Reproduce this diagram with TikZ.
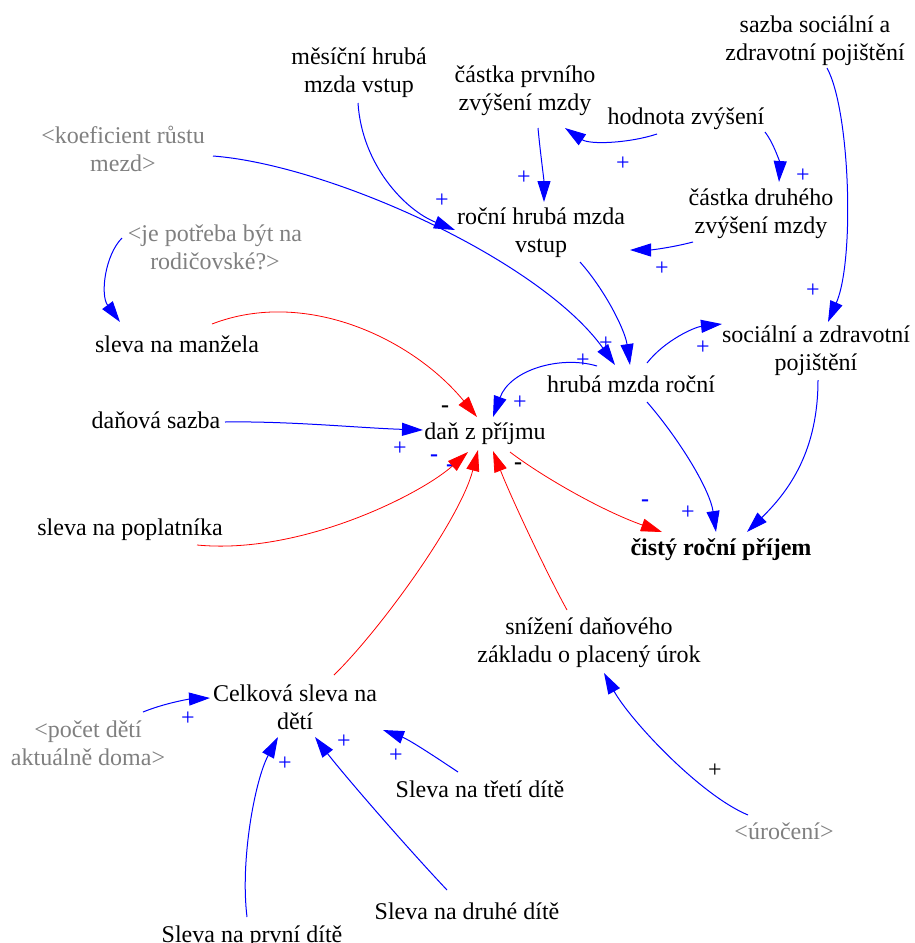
\documentclass[tikz,border=0pt]{standalone}
\usepackage{fontspec}
\setmainfont{Liberation Serif}
\newfontfamily\diagfont{Liberation Serif}
\usetikzlibrary{arrows.meta}
\definecolor{lblue}{RGB}{0,0,255}
\definecolor{lred}{RGB}{255,0,0}
\definecolor{lgrey}{RGB}{128,128,128}
\begin{document}
\begin{tikzpicture}[x=1pt,y=-1pt,
  every node/.style={font=\diagfont\fontsize{24}{28}\selectfont, inner sep=0pt, align=center},
  var/.style={text=black},
  shadowvar/.style={text=lgrey},
  boldvar/.style={text=black, font=\diagfont\fontsize{24}{28}\selectfont\bfseries},
  link/.style={-{Triangle[length=21pt,width=13pt]}},
  blink/.style={link, draw=lblue, line width=1pt},
  rlink/.style={link, draw=lred, line width=0.8pt},
  sgnblue/.style={text=lblue},
  sgnblack/.style={text=black},
  minus/.style={font=\diagfont\fontsize{24}{28}\selectfont\bfseries}
]
\useasboundingbox (0,0) rectangle (914,943);

% variables
\node[var] (mes) at (359,73) {měsíční hrubá\\mzda vstup};
\node[shadowvar] (koef) at (123,149) {<koeficient růstu\\mezd>};
\node[shadowvar] (jep) at (215,247) {<je potřeba být na\\rodičovské?>};
\node[var] (sazbaS) at (815,41) {sazba sociální a\\zdravotní pojištění};
\node[var] (prv) at (525,91) {částka prvního\\zvýšení mzdy};
\node[var] (hod) at (686,119) {hodnota zvýšení};
\node[var] (druh) at (761,214) {částka druhého\\zvýšení mzdy};
\node[var] (rocv) at (541,233) {roční hrubá mzda\\vstup};
\node[var] (hruba) at (631,384) {hrubá mzda roční};
\node[var] (soc) at (816,351) {sociální a zdravotní\\pojištění};
\node[var] (dan) at (485,434) {daň z příjmu};
\node[boldvar] (cisty) at (721,550) {čistý roční příjem};
\node[var] (manz) at (177,344) {sleva na manžela};
\node[var] (dsaz) at (156,420) {daňová sazba};
\node[var] (popl) at (130,530) {sleva na poplatníka};
\node[var] (celk) at (295,707) {Celková sleva na\\dětí};
\node[shadowvar] (pocet) at (88,743) {<počet dětí\\aktuálně doma>};
\node[var] (snize) at (589,643) {snížení daňového\\základu o placený úrok};
\node[shadowvar] (uroc) at (784,831) {<úročení>};
\node[var] (treti) at (480,789) {Sleva na třetí dítě};
\node[var] (druhe) at (467,911) {Sleva na druhé dítě};
\node[var] (prvni) at (252,937) {Sleva na první dítě};

% polarity signs
\node[sgnblue] (p1) at (442,201) {+};
\node[sgnblue] (p2) at (524,178) {+};
\node[sgnblue] (p3) at (623,164) {+};
\node[sgnblue] (p4) at (803,176) {+};
\node[sgnblue] (p5) at (662,269) {+};
\node[sgnblue] (p6) at (813,291) {+};
\node[sgnblue] (p7) at (606,344) {+};
\node[sgnblue] (p8) at (583,361) {+};
\node[sgnblue] (p9) at (703,348) {+};
\node[sgnblue] (p10) at (520,403) {+};
\node[sgnblack,minus] (m1) at (445,409) {-};
\node[sgnblue] (p11) at (400,449) {+};
\node[sgnblue,minus] (m2) at (434,458) {-};
\node[sgnblue,minus] (m3) at (450,468) {-};
\node[sgnblack,minus] (m4) at (518,466) {-};
\node[sgnblue,minus] (m5) at (645,503) {-};
\node[sgnblue] (p12) at (688,513) {+};
\node[sgnblue] (p13) at (188,719) {+};
\node[sgnblue] (p14) at (285,764) {+};
\node[sgnblue] (p15) at (344,742) {+};
\node[sgnblue] (p16) at (396,756) {+};
\node[sgnblack] (p17) at (715,771) {+};

% blue links
\draw[blink] ([shift={(-1,30)}]mes.center) .. controls (362,165) and (405,210) .. ([shift={(-86,-3)}]rocv.center);
\draw[blink] ([shift={(90,7)}]koef.center) .. controls (330,165) and (540,260) .. ([shift={(-16,-19)}]hruba.center);
\draw[blink] ([shift={(13,37)}]prv.center) .. controls (540,150) and (544,180) .. ([shift={(3,-31)}]rocv.center);
\draw[blink] ([shift={(-29,15)}]hod.center) .. controls (630,143) and (590,145) .. ([shift={(40,37)}]prv.center);
\draw[blink] ([shift={(79,13)}]hod.center) .. controls (775,145) and (780,165) .. ([shift={(18,-32)}]druh.center);
\draw[blink] ([shift={(-68,28)}]druh.center) .. controls (670,248) and (650,250) .. ([shift={(89,17)}]rocv.center);
\draw[blink] ([shift={(12,27)}]sazbaS.center) .. controls (850,110) and (855,260) .. ([shift={(12,-29)}]soc.center);
\draw[blink] ([shift={(39,29)}]rocv.center) .. controls (605,290) and (625,330) .. ([shift={(-1,-19)}]hruba.center);
\draw[blink] ([shift={(-34,-18)}]hruba.center) .. controls (560,355) and (510,370) .. ([shift={(8,-17)}]dan.center);
\draw[blink] ([shift={(16,-21)}]hruba.center) .. controls (665,340) and (695,327) .. ([shift={(-94,-27)}]soc.center);
\draw[blink] ([shift={(16,18)}]hruba.center) .. controls (680,440) and (710,490) .. ([shift={(-5,-18)}]cisty.center);
\draw[blink] ([shift={(2,29)}]soc.center) .. controls (818,450) and (790,490) .. ([shift={(26,-18)}]cisty.center);
\draw[blink] ([shift={(69,2)}]dsaz.center) .. controls (290,421) and (360,428) .. ([shift={(-62,-4)}]dan.center);
\draw[blink] ([shift={(-93,-9)}]jep.center) .. controls (105,255) and (100,295) .. ([shift={(-57,-22)}]manz.center);
\draw[blink] ([shift={(55,-31)}]pocet.center) .. controls (165,703) and (190,699) .. ([shift={(-85,-9)}]celk.center);
\draw[blink] ([shift={(-5,-20)}]prvni.center) .. controls (240,860) and (255,780) .. ([shift={(-17,30)}]celk.center);
\draw[blink] ([shift={(-20,-21)}]druhe.center) .. controls (400,840) and (340,770) .. ([shift={(20,30)}]celk.center);
\draw[blink] ([shift={(-22,-17)}]treti.center) .. controls (440,760) and (410,740) .. ([shift={(88,23)}]celk.center);
\draw[blink] ([shift={(-36,-16)}]uroc.center) .. controls (700,795) and (630,720) .. ([shift={(15,30)}]snize.center);

% red links
\draw[rlink] ([shift={(25,18)}]dan.center) .. controls (540,475) and (600,510) .. ([shift={(-59,-18)}]cisty.center);
\draw[rlink] ([shift={(35,-20)}]manz.center) .. controls (305,288) and (412,338) .. ([shift={(-8,-17)}]dan.center);
\draw[rlink] ([shift={(67,15)}]popl.center) .. controls (300,555) and (420,495) .. ([shift={(-17,18)}]dan.center);
\draw[rlink] ([shift={(39,-32)}]celk.center) .. controls (380,630) and (460,520) .. ([shift={(-7,16)}]dan.center);
\draw[rlink] ([shift={(-22,-33)}]snize.center) .. controls (545,570) and (510,495) .. ([shift={(8,17)}]dan.center);
\end{tikzpicture}
\end{document}
